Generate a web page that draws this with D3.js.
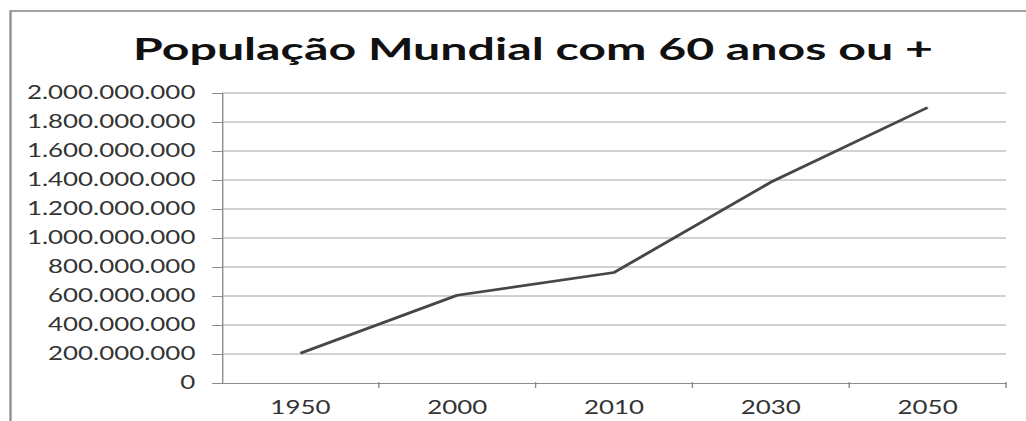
<!DOCTYPE html>
<html>
<head>
<meta charset="utf-8">
<script src="https://cdn.jsdelivr.net/npm/d3@7"></script>
<style>
  body { margin: 0; background: #fff; }
  svg { display: block; }
  text { font-family: Lato, "Open Sans", sans-serif; }
</style>
</head>
<body>
<div id="vis"></div>
<script>
// data
const YEARS = ["1950", "2000", "2010", "2030", "2050"];
const POPULATION = [205000000, 605000000, 762000000, 1385000000, 1900000000];
const Y_TICKS = [0, 200000000, 400000000, 600000000, 800000000, 1000000000,
                 1200000000, 1400000000, 1600000000, 1800000000, 2000000000];
const TITLE = "População Mundial com 60 anos ou +";

// the picture is stretched sideways, so draw in a narrower box and stretch it
const FRAME_WIDTH = 1026;
const FRAME_HEIGHT = 421;
const STRETCH = 1.4;
const VB_WIDTH = FRAME_WIDTH / STRETCH;
const MARGINS = {left: 222 / STRETCH, right: VB_WIDTH - 1006 / STRETCH, top: 93, bottom: FRAME_HEIGHT - 383};

const svg = d3.select("#vis")
              .append("svg")
              .attr("width", FRAME_WIDTH)
              .attr("height", FRAME_HEIGHT)
              .attr("viewBox", [0, 0, VB_WIDTH, FRAME_HEIGHT])
              .attr("preserveAspectRatio", "none");

// outer border of the chart
svg.append("rect")
   .attr("x", 7.5)
   .attr("y", 11)
   .attr("width", VB_WIDTH + 20)
   .attr("height", FRAME_HEIGHT + 20)
   .attr("fill", "none")
   .attr("stroke", "#8c8c8c")
   .attr("stroke-width", 1.6);

// title (Calibri-like narrow bold, so force its width)
svg.append("text")
   .attr("x", 533 / STRETCH)
   .attr("y", 60)
   .attr("text-anchor", "middle")
   .attr("font-size", 31)
   .attr("font-weight", 700)
   .attr("fill", "#111")
   .attr("textLength", 800 / STRETCH)
   .attr("lengthAdjust", "spacingAndGlyphs")
   .text(TITLE);

const x = d3.scaleBand()
            .domain(YEARS)
            .range([MARGINS.left, VB_WIDTH - MARGINS.right]);

const y = d3.scaleLinear()
            .domain([0, d3.max(Y_TICKS)])
            .range([FRAME_HEIGHT - MARGINS.bottom, MARGINS.top]);

const ptBR = d3.formatLocale({decimal: ",", thousands: ".", grouping: [3], currency: ["R$", ""]});

// gridlines
svg.append("g")
   .selectAll("line")
   .data(Y_TICKS.slice(1))
   .join("line")
     .attr("x1", MARGINS.left)
     .attr("x2", VB_WIDTH - MARGINS.right)
     .attr("y1", (d) => y(d))
     .attr("y2", (d) => y(d))
     .attr("stroke", "#a3a3a3")
     .attr("stroke-width", 1);

// y axis
const yAxis = svg.append("g")
   .attr("transform", "translate(" + MARGINS.left + ",0)")
   .call(d3.axisLeft(y).tickValues(Y_TICKS).tickFormat(ptBR.format(",d")).tickSize(7).tickPadding(12));
yAxis.select(".domain").attr("stroke", "#8c8c8c");
yAxis.selectAll(".tick line").attr("stroke", "#8c8c8c");
yAxis.selectAll("text").attr("font-size", 18.5).attr("fill", "#333");

// x axis, labels in the middle of each band, ticks between bands
const xAxis = svg.append("g")
   .attr("transform", "translate(0," + y(0) + ")")
   .call(d3.axisBottom(x).tickSize(0).tickPadding(18));
xAxis.select(".domain").attr("stroke", "#8c8c8c");
xAxis.selectAll("text").attr("font-size", 18.5).attr("fill", "#333");

svg.append("g")
   .selectAll("line")
   .data(YEARS)
   .join("line")
     .attr("x1", (d) => x(d) + x.bandwidth())
     .attr("x2", (d) => x(d) + x.bandwidth())
     .attr("y1", y(0) - 1)
     .attr("y2", y(0) + 5)
     .attr("stroke", "#8c8c8c");

// the series
const line = d3.line()
               .x((d, i) => x(YEARS[i]) + x.bandwidth() / 2)
               .y((d) => y(d));

svg.append("path")
   .datum(POPULATION)
   .attr("d", line)
   .attr("fill", "none")
   .attr("stroke", "#474747")
   .attr("stroke-width", 2.6)
   .attr("stroke-linejoin", "round");
</script>
</body>
</html>
